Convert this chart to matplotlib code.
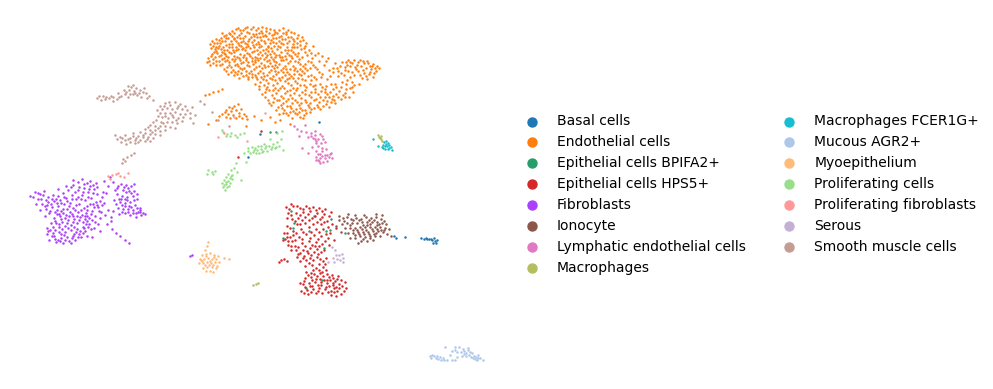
"""
    UMAP of cell types, points read off the reference by eye
    (x, y are picture positions so the axis is just 0-993 / 389-0)
"""

import matplotlib
matplotlib.use('Agg')
import matplotlib.pyplot as plt

labels = ['Basal cells', 'Endothelial cells', 'Epithelial cells BPIFA2+',
          'Epithelial cells HPS5+', 'Fibroblasts', 'Ionocyte',
          'Lymphatic endothelial cells', 'Macrophages', 'Macrophages FCER1G+',
          'Mucous AGR2+', 'Myoepithelium', 'Proliferating cells',
          'Proliferating fibroblasts', 'Serous', 'Smooth muscle cells']

colors = ['#1f77b4', '#ff7f0e', '#279e68', '#d62728', '#aa40fc', '#8c564b',
          '#e377c2', '#b5bd61', '#17becf', '#aec7e8', '#ffbb78', '#98df8a',
          '#ff9896', '#c5b0d5', '#c49c94']

basal = [(394,236),(396,238),(405,237),(421,238),(424,239),(426,238),(429,239),(432,240),(434,238),
         (435,241),(437,240),(433,243),(436,243),(431,239),(427,239),(319,122),(260,134),(248,157)]

endothelial = [
    (238,28),(247,27),(256,30),(262,27),(270,29),(283,28),(232,31),(241,33),(251,29),(259,33),(266,31),(277,33),
    (288,30),(294,33),(226,35),(236,29),(245,36),(253,34),(263,36),(272,35),(281,36),(291,37),(221,38),(230,34),
    (240,38),(249,39),(257,37),(268,39),(276,38),(286,34),(297,38),(216,39),(225,41),(234,38),(243,41),(252,42),
    (261,40),(270,43),(279,41),(289,41),(300,41),(212,41),(220,43),(229,44),(238,43),(247,44),(256,44),(265,43),
    (274,46),(283,44),(293,44),(303,40),(213,46),(223,47),(232,47),(241,46),(250,48),(259,47),(268,47),(277,49),
    (287,47),(297,47),(306,43),(210,44),(218,48),(227,50),(236,50),(245,50),(254,51),(263,50),(272,51),(281,52),
    (291,50),(301,49),(313,46),(214,52),(222,52),(231,53),(240,54),(249,54),(258,54),(267,55),(276,55),(285,56),
    (295,54),(305,52),(318,53),(211,56),(219,56),(228,57),(237,57),(246,58),(255,57),(264,59),(273,59),(283,60),
    (292,58),(302,57),(312,58),(322,56),(207,62),(216,61),(225,61),(234,61),(243,62),(252,61),(261,63),(270,63),
    (279,64),(288,63),(298,62),(308,61),(319,61),(328,58),(210,65),(220,65),(229,65),(238,66),(247,65),(256,67),
    (265,67),(274,68),(283,68),(293,66),(303,66),(313,65),(324,65),(335,63),(224,69),(233,70),(242,69),(251,71),
    (260,71),(269,72),(278,72),(287,72),(297,71),(307,70),(317,69),(329,70),(340,66),(228,74),(237,74),(246,75),
    (255,75),(264,76),(273,76),(282,77),(291,76),(301,75),(311,75),(322,74),(333,72),(345,70),(239,78),(248,79),
    (257,79),(266,80),(275,80),(285,81),(295,81),(305,80),(316,79),(327,79),(338,76),(352,63),(358,62),(363,61),
    (368,63),(373,64),(377,66),(348,60),(355,67),(361,66),(366,68),(371,69),(376,71),(352,72),(358,71),(364,73),
    (369,74),(373,77),(367,79),(362,78),(347,65),(342,62),(344,75),(350,77),(255,84),(264,85),(273,85),(282,86),
    (291,85),(300,85),(310,84),(320,84),(331,84),(342,82),(352,82),(359,84),(350,88),(341,87),(333,89),(325,89),
    (315,89),(305,90),(296,90),(287,91),(278,90),(269,90),(259,89),(262,94),(272,95),(281,96),(290,95),(299,95),
    (309,95),(318,94),(327,94),(336,94),(345,93),(353,92),(349,97),(341,99),(332,99),(323,100),(314,100),(305,100),
    (295,100),(286,101),(277,100),(268,100),(271,105),(281,105),(290,106),(299,105),(308,105),(317,105),(326,104),
    (335,103),(329,107),(320,109),(311,109),(302,110),(293,111),(284,110),(276,110),(279,114),(288,115),(297,114),
    (306,113),(300,117),(292,118),(229,107),(234,106),(238,104),(226,110),(231,111),(236,110),(241,109),(222,114),
    (228,114),(233,115),(239,113),(244,114),(226,117),(236,118),(242,118),(205,95),(209,94),(213,92),(218,91),
    (222,89),(247,119),(254,116),(261,120),(270,117),(275,122),(280,120),(290,124),(246,126),(208,124),(216,120),
    (234,39),(249,33),(262,33),(275,32),(243,30),(254,36),(231,41),(241,42),(266,36),(279,37),(294,41),(219,46),
    (226,45),(236,47),(246,47),(257,50),(268,51),(278,46),(288,50),(300,45),(309,50),(217,53),(225,54),(243,57),
    (252,58),(262,55),(271,57),(280,57),(289,55),(299,59),(315,55),(213,59),(222,59),(232,59),(240,60),(258,60),
    (267,61),(276,62),(286,59),(295,61),(305,64),(216,65),(231,67),(244,68),(253,64),(262,68),(272,66),(281,70),
    (290,69),(300,69),(310,68),(319,72),(235,72),(249,73),(258,73),(267,75),(276,74),(285,75),(294,74),(304,73),
    (314,77),(243,76),(252,77),(261,77),(270,78),(279,78),(289,78),(298,78),(260,82),(268,83),(277,83),(288,83),
    (297,83),(306,87),(313,86),(322,87),(336,87),(346,84),(267,87),(275,88),(284,88),(293,88),(302,92),(311,92),
    (321,91),(330,92),(339,91),(265,97),(274,98),(283,98),(292,98),(301,98),(311,97),(320,97),(329,97),(338,97),
    (346,89),(273,102),(283,103),(292,103),(301,103),(310,103),(319,102),(327,101),(282,108),(291,108),(300,108),
    (309,107),(318,107),(304,115),(295,113),(286,113),(222,33),(228,38),(224,36),(217,43),(232,36),(258,42),(248,41),
    (271,40),(285,39),(276,43),(292,47),(311,53),(326,61),(333,68),(338,71),(364,63),(370,66),(375,68),(357,65),
    (350,62),(366,76),(360,75),(354,75),(348,71),(341,73),(268,46),(254,47),(242,49),(233,50),(224,50),(215,49),
    (212,54),(227,60),(237,64),(246,60),(255,62),(264,65),(275,65),(285,66),(295,68),(305,68),
    # second pass, filling the dense part
    (240,30),(245,28),(253,27),(258,28),(266,28),(274,30),(279,30),(286,32),(229,33),(234,33),(239,35),(247,32),
    (256,34),(261,31),(269,33),(274,34),(283,33),(291,32),(298,35),(219,40),(226,38),(237,37),(243,38),(251,37),
    (260,37),(265,35),(273,38),(282,39),(288,37),(293,39),(302,37),(214,43),(222,41),(232,44),(236,41),(245,43),
    (254,40),(259,44),(264,41),(273,42),(281,43),(287,43),(297,43),(305,46),(211,48),(216,47),(221,49),(229,47),
    (239,45),(243,48),(248,46),(253,45),(261,46),(266,49),(271,48),(280,47),(285,50),(294,47),(304,48),(216,51),
    (224,53),(229,52),(234,52),(238,49),(247,53),(252,52),(260,52),(265,53),(270,54),(274,53),(279,55),(287,53),
    (293,52),(298,53),(208,58),(215,57),(221,55),(226,56),(234,56),(239,58),(244,55),(250,56),(257,58),(266,57),
    (275,57),(282,57),(291,56),(297,56),(307,55),(209,61),(219,61),(224,58),(229,62),(235,59),(241,63),(248,62),
    (255,60),(260,58),(269,60),(274,61),(281,60),(290,61),(300,64),(311,62),(213,63),(222,64),(227,67),(235,65),
    (240,68),(249,66),(254,69),(259,66),(268,66),(277,67),(286,69),(294,70),(302,71),(315,67),(226,71),(231,72),
    (238,71),(246,71),(252,74),(263,73),(271,70),(275,71),(283,72),(289,74),(299,74),(308,76),(234,75),(241,73),
    (248,77),(256,77),(263,79),(272,79),(280,80),(287,79),(293,78),(302,79),(311,80),(321,77),(330,76),(337,68),
    (346,62),(354,60),(360,60),(367,61),(372,66),(379,68),(374,73),(370,72),(363,70),(356,69),(350,66),(345,67),
    (259,86),(266,89),(273,90),(280,88),(290,90),(297,88),(304,85),(315,85),(326,86),(335,84),(347,80),(354,85),
    (265,92),(276,93),(285,93),(294,93),(305,94),(315,92),(325,92),(333,96),(343,95),(352,87),(269,103),(279,100),
    (288,99),(297,102),(306,102),(316,99),(325,97),(334,100),(345,97),(278,107),(287,106),(296,109),(305,110),
    (314,108),(323,106),(331,102),(283,113),(290,112),(299,112),(310,112),(303,118),(225,112),(232,108),(239,116),
    (230,118),(219,116),(246,116)]

epi_bpifa2 = [(314,216),(291,211),(294,223),(293,228),(309,231),(331,219),(345,233),(326,231),(324,248),(283,238),
              (270,132),(276,132),(306,288),(322,280),(330,230)]

epi_hps5 = [(286,207),(289,209),(293,206),(300,208),(306,206),(313,207),(319,208),(325,209),(331,212),(288,213),
            (296,213),(303,212),(310,211),(317,213),(324,214),(329,216),(298,218),(305,217),(312,218),(320,219),
            (327,221),(332,224),(292,219),(297,224),(305,223),(313,224),(321,224),(328,227),(287,233),(293,235),
            (301,229),(309,227),(316,229),(323,229),(330,233),(336,228),(285,239),(292,241),(299,237),(306,234),
            (314,235),(321,236),(328,238),(334,240),(288,245),(295,246),(302,243),(309,241),(316,242),(322,244),
            (296,250),(303,250),(310,248),(317,249),(324,250),(329,245),(298,254),(304,256),(311,255),(318,254),
            (281,260),(284,259),(287,261),(279,262),(300,261),(306,260),(313,260),(320,259),(326,258),(305,266),
            (312,265),(319,264),(325,264),(306,272),(313,270),(319,270),(326,270),(332,275),(338,276),(345,282),
            (305,278),(311,277),(317,276),(323,276),(329,277),(335,281),(341,280),(346,288),(303,284),(309,283),
            (315,282),(321,282),(327,283),(333,285),(339,284),(344,291),(301,291),(307,290),(313,289),(319,288),
            (325,289),(331,291),(337,291),(331,295),(336,296),(341,294),(316,293),(322,293),(326,287),(287,218),
            (293,231),(300,224),(287,237),(283,240),(291,250),(297,257),(308,253),(315,246),(300,283),(337,279),
            (334,288),(342,286),(310,286),(318,285),(324,280),(330,280),(316,279),(311,273),(322,272),(308,294),
            (238,157),(261,131),
            (291,204),(297,206),(303,209),(309,208),(316,210),(322,211),(291,215),(300,215),(308,214),(315,216),
            (322,217),(287,226),(290,228),(295,221),(302,220),(309,220),(317,222),(324,222),(284,233),(290,237),
            (296,233),(303,232),(311,232),(319,232),(326,234),(288,241),(295,240),(302,239),(310,238),(318,239),
            (325,241),(291,246),(298,247),(305,246),(312,245),(319,246),(300,253),(307,251),(314,252),(321,252),
            (303,258),(310,258),(317,257),(323,261),(309,263),(316,268),(323,267),(308,275),(314,274),(320,273),
            (327,274),(333,278),(304,281),(312,280),(320,279),(327,280),(333,283),(305,287),(312,286),(321,285),
            (329,286),(336,287),(304,293),(311,292),(318,291),(328,292),(334,292),(339,288)]

fibroblasts = [
    (33,197),(38,199),(43,195),(48,197),(53,195),(58,196),(63,193),(68,190),(73,185),(78,182),(84,184),(90,181),
    (36,204),(42,204),(48,202),(54,201),(60,200),(66,198),(72,195),(78,190),(84,188),(90,186),(96,183),(40,210),
    (46,209),(52,207),(58,206),(64,204),(70,203),(76,199),(82,195),(88,192),(94,189),(49,213),(55,212),(61,211),
    (67,209),(73,208),(79,204),(85,200),(91,198),(97,194),(103,192),(54,218),(60,216),(66,215),(72,214),(78,212),
    (84,208),(90,204),(96,202),(102,197),(56,223),(62,222),(68,220),(74,219),(80,217),(86,213),(92,211),(98,207),
    (104,203),(47,228),(53,227),(59,227),(65,226),(71,225),(77,223),(83,222),(89,218),(95,216),(101,212),(47,234),
    (53,233),(59,232),(65,232),(71,230),(77,229),(83,227),(89,224),(95,222),(49,240),(55,239),(61,238),(67,237),
    (73,236),(79,234),(85,231),(91,229),(56,242),(63,243),(69,241),(75,240),(81,237),(87,236),(121,184),(126,185),
    (131,186),(134,184),(123,190),(129,191),(134,191),(117,194),(122,196),(127,197),(133,196),(137,199),(114,200),
    (120,202),(125,203),(130,202),(135,205),(140,208),(143,213),(118,208),(123,209),(128,209),(133,210),(138,212),
    (136,217),(141,215),(130,215),(125,213),(113,211),(108,186),(106,193),(104,181),(108,210),(111,217),(107,224),
    (112,229),(116,233),(120,236),(125,240),(129,243),(111,221),(100,231),(94,228),(98,224),(41,199),(52,199),
    (64,197),(75,192),(88,197),(47,205),(57,203),(69,206),(81,199),(93,193),(63,209),(76,205),(87,206),(59,214),
    (70,212),(82,215),(94,207),(100,201),(65,218),(77,216),(87,216),(99,211),(51,223),(59,224),(73,222),(85,219),
    (50,230),(62,229),(74,227),(86,224),(52,236),(64,235),(76,232),(88,227),(60,241),(72,238),(83,233),(110,177),
    (113,182),(117,188),(128,188),(126,192),(119,199),(127,200),(134,200),(122,205),(129,206),(137,208),(133,213),
    (128,212),(122,212),(140,210),(145,214),(100,218),(105,215),(92,237),(44,191),(58,189),(71,187),(82,179),
    (73,180),(66,186),(79,187),(89,189),(97,187),(38,193),(30,196),(35,192),(57,210),(45,216),(190,256),(192,255),
    (40,194),(46,200),(51,204),(56,199),(61,203),(67,201),(72,199),(78,197),(83,192),(87,183),(93,185),(45,206),
    (50,211),(57,214),(63,213),(69,216),(75,210),(81,210),(87,210),(93,204),(55,221),(61,219),(67,223),(73,216),
    (79,220),(85,216),(91,214),(48,231),(55,230),(61,234),(68,228),(74,234),(80,231),(87,221),(54,236),(58,240),
    (65,240),(71,243),(78,237),(84,228),(92,220),(97,205),(102,205),(118,186),(124,187),(131,193),(125,199),
    (116,204),(121,199),(131,207),(136,213),(125,206),(140,212),(119,214),(115,190),(137,194)]

ionocyte = [(339,220),(343,218),(347,217),(351,219),(356,218),(361,219),(366,217),(371,218),(376,217),(381,219),
            (342,224),(347,223),(352,223),(357,223),(362,222),(367,222),(372,222),(377,222),(382,223),(386,224),
            (336,226),(345,228),(350,228),(355,228),(360,227),(365,227),(370,227),(375,227),(380,227),(385,228),
            (389,229),(348,233),(353,233),(358,232),(363,232),(368,232),(373,231),(378,231),(383,232),(387,234),
            (350,238),(355,238),(360,236),(365,237),(370,236),(375,236),(380,236),(361,241),(367,241),(373,240),
            (358,243),(341,232),(339,216),(348,214),(355,215),(364,215),(376,214),(382,215),(353,220),(363,225),
            (370,224),(377,225),(357,230),(366,230),(374,234),(384,230),(359,234),(391,236),
            (344,221),(350,225),(359,220),(369,220),(374,220),(379,224),(384,221),(367,225),(372,229),(377,229),
            (381,230),(362,229),(355,235),(364,234),(369,234),(376,233),(370,238),(363,239),(353,230)]

lymphatic = [(297,129),(301,131),(306,132),(311,133),(315,135),(320,134),(308,137),(313,138),(318,139),(323,139),
             (299,136),(316,143),(321,143),(325,142),(312,147),(318,146),(322,148),(302,148),(308,153),(316,151),
             (320,154),(325,155),(330,154),(316,157),(320,158),(325,158),(329,157),(332,158),(319,161),(323,162),
             (327,161),(331,153),(318,154),(326,149),(294,126),(305,125),(315,131),(311,136),(316,141),(322,136),
             (322,151),(318,160),(322,156),(327,155),(316,160),(320,163),(315,139)]

macrophages = [(378,135),(379,137),(380,138),(381,139),(382,141),(256,284),(253,285),(258,283),(381,136)]

macrophages_f = [(384,142),(386,141),(388,143),(383,145),(385,146),(387,146),(389,145),(391,147),(386,144),(382,147),
                 (385,149),(388,149),(392,150),(383,148),(389,148),(373,139),(378,146)]

mucous = [(430,356),(432,355),(434,356),(436,358),(438,359),(441,360),(444,360),(437,356),(443,358),(447,360),
          (452,360),(450,355),(452,351),(455,350),(457,352),(459,347),(461,352),(464,351),(466,353),(468,350),
          (470,352),(472,353),(474,356),(476,357),(478,355),(480,358),(483,360),(471,357),(475,359),(466,356),
          (457,357),(455,347),(445,347),(455,360),(462,356),(477,360),(468,348),(463,349),(431,358),(440,357),
          (473,358),(478,358),(469,355),(464,354)]

myoepithelium = [(208,242),(207,246),(205,250),(202,255),(206,254),(210,253),(214,255),(218,256),(200,259),(204,259),
                 (208,258),(212,259),(216,259),(199,263),(203,263),(207,262),(211,263),(215,262),(219,262),(203,268),
                 (207,267),(212,267),(216,268),(206,271),(210,271),(213,272),(217,266),(224,258),(229,259),(201,260),
                 (209,265),(205,265),(213,265),(206,256),(202,261),(214,257),(210,261)]

proliferating = [(223,132),(227,134),(231,133),(235,135),(240,134),(244,133),(226,136),(230,136),(237,137),(222,130),
                 (246,162),(250,153),(253,152),(257,150),(261,149),(265,148),(269,146),(273,144),(277,142),(281,139),
                 (248,151),(255,148),(259,153),(263,151),(267,151),(271,149),(275,148),(279,146),(283,150),(252,147),
                 (258,146),(264,144),(270,139),(276,147),(261,146),(244,153),(208,170),(212,172),(215,171),(207,174),
                 (213,174),(231,170),(234,168),(237,172),(228,174),(232,175),(226,177),(230,178),(224,180),(228,181),
                 (232,179),(222,183),(226,184),(230,183),(223,187),(227,187),(225,190),(241,180),(236,163),(277,133),(282,131),
                 (254,150),(262,152),(266,146),(272,147),(248,148),(256,153),(226,182),(229,186),(224,185),(231,176)]

prolif_fibro = [(108,176),(112,175),(116,174),(120,176),(124,177),(110,179),(128,173),(118,173),(224,133),(234,117),
                (218,137),(265,113),(247,141)]

serous = [(333,258),(336,255),(339,255),(342,254),(337,259),(340,260),(334,262),(343,258),(332,247),(335,250),
          (328,262),(343,262)]

smooth_muscle = [(97,98),(101,100),(105,99),(109,98),(113,97),(117,99),(121,96),(125,94),(129,90),(131,87),(133,85),
                 (136,88),(140,90),(143,92),(146,93),(128,97),(133,94),(137,95),(141,97),(147,98),(153,100),(118,93),
                 (124,90),(128,86),(134,91),(149,96),(144,88),(113,101),(103,96),(160,106),(165,103),(170,105),(175,102),
                 (180,104),(185,106),(157,110),(162,109),(167,108),(172,109),(177,108),(182,109),(187,110),(192,107),
                 (160,113),(165,113),(170,113),(175,112),(180,114),(185,114),(190,113),(162,117),(168,118),(173,117),
                 (178,118),(183,117),(156,120),(161,122),(167,122),(172,122),(177,123),(182,121),(150,125),(155,126),
                 (160,126),(165,126),(170,127),(175,128),(145,129),(150,130),(155,130),(160,131),(165,130),(140,132),
                 (145,133),(150,134),(155,134),(160,135),(133,133),(138,136),(143,137),(148,137),(153,138),(125,135),
                 (130,138),(135,140),(140,140),(145,141),(150,141),(120,137),(125,140),(130,142),(135,143),(117,139),
                 (121,142),(126,144),(115,135),(123,159),(127,157),(131,155),(134,153),(122,163),(125,161),(200,101),
                 (204,104),(195,115),(212,112),(218,120),(229,126),(193,123),(190,118),
                 (99,96),(106,97),(111,96),(119,97),(126,92),(135,93),(130,94),(139,93),(164,106),(169,102),(178,106),
                 (158,116),(165,116),(172,115),(176,120),(153,122),(163,123),(158,128),(148,127),(152,132),(143,135),
                 (136,138),(128,139),(122,138),(138,142),(147,139),(133,136)]

scatter_size = 3.2
legend_size = 42

all_points = [basal, endothelial, epi_bpifa2, epi_hps5, fibroblasts, ionocyte, lymphatic,
              macrophages, macrophages_f, mucous, myoepithelium, proliferating,
              prolif_fibro, serous, smooth_muscle]

fig = plt.figure(figsize=(9.93, 3.89), dpi=100)
ax = fig.add_axes([0, 0, 1, 1])

for pts, lab, col in zip(all_points, labels, colors):
    xs = [p[0] for p in pts]
    ys = [p[1] for p in pts]
    ax.scatter(xs, ys, s=scatter_size, c=col, linewidths=0)
    # empty one for the legend so the marker is big
    ax.scatter([], [], s=legend_size, c=col, label=lab)

ax.set_xlim(0, 993)
ax.set_ylim(389, 0)
ax.axis('off')
ax.legend(loc='center left', bbox_to_anchor=(0.509, 0.5), ncol=2, frameon=False, fontsize=10,
          handletextpad=0.8, columnspacing=2.15)

fig.savefig('out.png', dpi=100)
